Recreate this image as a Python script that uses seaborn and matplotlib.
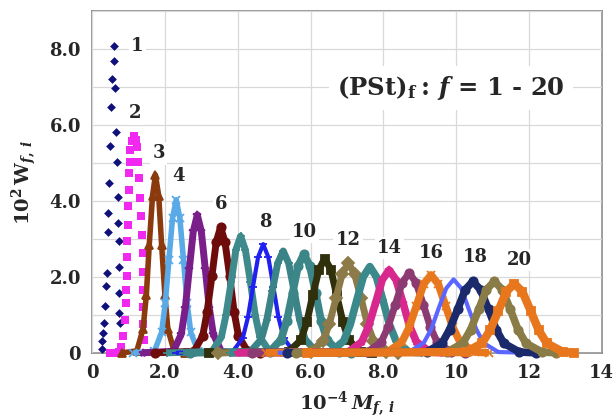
import numpy as np
import matplotlib
matplotlib.use("Agg")
import matplotlib.pyplot as plt
import seaborn as sns

# weight fraction curves 10^2 W_f,i vs 10^-4 M_f,i for f = 1..20
M_f1 = [0.27, 0.28, 0.31, 0.33, 0.36, 0.39, 0.40, 0.45, 0.45, 0.47, 0.50, 0.52, 0.54, 0.59, 0.61, 0.63, 0.66, 0.68, 0.70, 0.72, 0.73, 0.73, 0.74, 0.75, 0.78]
W_f1 = [0.10, 0.30, 0.52, 0.78, 1.22, 1.75, 2.10, 3.19, 3.68, 4.47, 5.45, 6.48, 7.22, 8.08, 7.69, 6.97, 5.80, 5.03, 4.11, 3.41, 2.93, 2.27, 1.57, 1.04, 0.78]

M_f2 = [0.50, 0.58, 0.66, 0.74, 0.80, 0.86, 0.91, 0.93, 0.94, 0.95, 0.95, 0.97, 0.98, 0.98, 1.00, 1.00, 1.03, 1.05, 1.10, 1.16, 1.21, 1.24, 1.26, 1.30, 1.32, 1.34, 1.37, 1.39, 1.40, 1.40, 1.41, 1.41, 1.43]
W_f2 = [0.00, 0.00, 0.00, 0.03, 0.15, 0.43, 0.87, 1.31, 1.66, 2.03, 2.53, 2.93, 3.37, 3.86, 4.29, 4.72, 5.03, 5.34, 5.57, 5.70, 5.60, 5.43, 5.03, 4.60, 4.07, 3.59, 3.11, 2.62, 2.14, 1.66, 1.20, 0.75, 0.35]

M_f3 = [0.83, 1.23, 1.40, 1.49, 1.57, 1.66, 1.74, 1.83, 1.91, 2.00, 2.08, 2.25, 2.55]
W_f3 = [0.00, 0.05, 0.63, 1.52, 2.84, 4.13, 4.68, 4.13, 2.84, 1.52, 0.63, 0.05, 0.00]
M_f4 = [1.13, 1.71, 1.91, 2.01, 2.11, 2.21, 2.31, 2.41, 2.51, 2.61, 2.71, 2.91, 3.20]
W_f4 = [0.00, 0.04, 0.54, 1.31, 2.45, 3.55, 4.03, 3.55, 2.45, 1.31, 0.54, 0.04, 0.00]
M_f5 = [1.40, 2.23, 2.45, 2.56, 2.67, 2.78, 2.89, 3.00, 3.11, 3.22, 3.33, 3.55, 3.85]
W_f5 = [0.00, 0.04, 0.49, 1.18, 2.20, 3.20, 3.63, 3.20, 2.20, 1.18, 0.49, 0.04, 0.00]
M_f6 = [1.74, 2.80, 3.04, 3.16, 3.29, 3.41, 3.53, 3.65, 3.78, 3.90, 4.02, 4.27, 4.60]
W_f6 = [0.00, 0.04, 0.45, 1.08, 2.01, 2.92, 3.31, 2.92, 2.01, 1.08, 0.45, 0.04, 0.00]
M_f7 = [2.07, 3.29, 3.55, 3.68, 3.82, 3.95, 4.08, 4.21, 4.35, 4.48, 4.61, 4.88, 5.20]
W_f7 = [0.00, 0.03, 0.41, 1.00, 1.86, 2.71, 3.07, 2.71, 1.86, 1.00, 0.41, 0.03, 0.00]
M_f8 = [2.30, 3.86, 4.14, 4.28, 4.42, 4.56, 4.70, 4.84, 4.98, 5.12, 5.26, 5.54, 5.85]
W_f8 = [0.00, 0.03, 0.39, 0.93, 1.74, 2.52, 2.86, 2.52, 1.74, 0.93, 0.39, 0.03, 0.00]
M_f9 = [2.50, 4.35, 4.65, 4.80, 4.95, 5.10, 5.25, 5.40, 5.55, 5.70, 5.85, 6.15, 6.50]
W_f9 = [0.00, 0.03, 0.36, 0.87, 1.63, 2.36, 2.68, 2.36, 1.63, 0.87, 0.36, 0.03, 0.00]
M_f10 = [2.70, 4.88, 5.19, 5.35, 5.51, 5.66, 5.82, 5.98, 6.14, 6.29, 6.45, 6.77, 7.10]
W_f10 = [0.00, 0.03, 0.35, 0.85, 1.58, 2.29, 2.60, 2.29, 1.58, 0.85, 0.35, 0.03, 0.00]
M_f11 = [3.20, 5.40, 5.73, 5.90, 6.06, 6.23, 6.39, 6.56, 6.72, 6.89, 7.05, 7.38, 7.70]
W_f11 = [0.00, 0.03, 0.33, 0.81, 1.51, 2.19, 2.48, 2.19, 1.51, 0.81, 0.33, 0.03, 0.00]
M_f12 = [3.47, 6.01, 6.35, 6.52, 6.70, 6.87, 7.04, 7.21, 7.39, 7.56, 7.73, 8.08, 8.40]
W_f12 = [0.00, 0.03, 0.32, 0.77, 1.43, 2.08, 2.36, 2.08, 1.43, 0.77, 0.32, 0.03, 0.00]
M_f13 = [3.80, 6.55, 6.91, 7.09, 7.27, 7.45, 7.63, 7.81, 7.99, 8.17, 8.35, 8.71, 9.05]
W_f13 = [0.00, 0.02, 0.31, 0.74, 1.38, 2.00, 2.27, 2.00, 1.38, 0.74, 0.31, 0.02, 0.00]
M_f14 = [4.00, 7.04, 7.41, 7.60, 7.79, 7.97, 8.16, 8.35, 8.54, 8.72, 8.91, 9.29, 9.65]
W_f14 = [0.00, 0.02, 0.29, 0.71, 1.32, 1.92, 2.18, 1.92, 1.32, 0.71, 0.29, 0.02, 0.00]
M_f15 = [4.40, 7.56, 7.94, 8.13, 8.33, 8.52, 8.71, 8.90, 9.10, 9.29, 9.48, 9.87, 10.25]
W_f15 = [0.00, 0.02, 0.28, 0.68, 1.27, 1.85, 2.10, 1.85, 1.27, 0.68, 0.28, 0.02, 0.00]
M_f16 = [4.77, 8.11, 8.51, 8.71, 8.91, 9.11, 9.31, 9.51, 9.71, 9.91, 10.11, 10.51, 10.90]
W_f16 = [0.00, 0.02, 0.28, 0.67, 1.24, 1.81, 2.05, 1.81, 1.24, 0.67, 0.28, 0.02, 0.00]
M_f17 = [5.10, 8.70, 9.11, 9.32, 9.52, 9.73, 9.93, 10.14, 10.34, 10.55, 10.75, 11.16, 12.00]
W_f17 = [0.00, 0.02, 0.26, 0.63, 1.17, 1.70, 1.93, 1.70, 1.17, 0.63, 0.26, 0.02, 0.00]
M_f18 = [5.35, 9.19, 9.61, 9.82, 10.04, 10.25, 10.46, 10.67, 10.89, 11.10, 11.31, 11.74, 12.20]
W_f18 = [0.00, 0.02, 0.25, 0.61, 1.14, 1.66, 1.88, 1.66, 1.14, 0.61, 0.25, 0.02, 0.00]
M_f19 = [5.60, 9.75, 10.18, 10.40, 10.62, 10.83, 11.05, 11.27, 11.49, 11.70, 11.92, 12.36, 12.75]
W_f19 = [0.00, 0.02, 0.25, 0.61, 1.14, 1.66, 1.88, 1.66, 1.14, 0.61, 0.25, 0.02, 0.00]
M_f20 = [5.90, 10.27, 10.71, 10.93, 11.16, 11.38, 11.60, 11.82, 12.05, 12.27, 12.49, 12.94, 13.25]
W_f20 = [0.00, 0.02, 0.25, 0.59, 1.10, 1.61, 1.82, 1.61, 1.10, 0.59, 0.25, 0.02, 0.00]

curve_labels = ["1", "2", "3", "4", "6", "8", "10", "12", "14", "16", "18", "20"]
x_ticks = [0, 2, 4, 6, 8, 10, 12, 14]
x_tick_labels = ["0", "2.0", "4.0", "6.0", "8.0", "10", "12", "14"]
y_ticks = [0, 2, 4, 6, 8]
y_tick_labels = ["0", "2.0", "4.0", "6.0", "8.0"]

curves_M = [M_f3, M_f4, M_f5, M_f6, M_f7, M_f8, M_f9, M_f10, M_f11, M_f12,
            M_f13, M_f14, M_f15, M_f16, M_f17, M_f18, M_f19, M_f20]
curves_W = [W_f3, W_f4, W_f5, W_f6, W_f7, W_f8, W_f9, W_f10, W_f11, W_f12,
            W_f13, W_f14, W_f15, W_f16, W_f17, W_f18, W_f19, W_f20]

# styles for f = 3..20
colors = ["#8b3a0e", "#5aaae8", "#7a1f8a", "#6e0c0c", "#3e8a8c", "#2020f0",
          "#3a8488", "#3c8688", "#30300c", "#8c7a48", "#3a8a8c", "#d8288e",
          "#8c3a72", "#e8781e", "#5a66ff", "#1a2a6a", "#8a7c46", "#e8761c"]
markers = ["^", "x", "*", "o", "+", "_", "_", "o", "s", "D",
           "+", "*", "o", "x", None, "o", "o", "s"]
widths = [4.0, 4.0, 5.0, 5.0, 5.0, 3.0, 5.0, 5.5, 5.0, 5.0,
          5.5, 5.5, 5.0, 5.5, 3.0, 5.5, 5.5, 6.0]

sns.set_theme(style="white")
plt.rcParams["font.family"] = ["DejaVu Serif"]
plt.rcParams["font.weight"] = "bold"
plt.rcParams["mathtext.fontset"] = "custom"
plt.rcParams["mathtext.rm"] = "DejaVu Serif:bold"
plt.rcParams["mathtext.it"] = "DejaVu Serif:italic:bold"
plt.rcParams["mathtext.bf"] = "DejaVu Serif:bold"

fig = plt.figure(figsize=(6.14, 4.19), dpi=100)
ax = fig.add_axes([0.150, 0.158, 0.830, 0.816])

sns.scatterplot(x=M_f1, y=W_f1, marker="D", color="#10107a", s=20,
                linewidth=0, ax=ax, clip_on=False, zorder=3)
sns.scatterplot(x=M_f2, y=W_f2, marker="s", color="#f028f0", s=28,
                linewidth=0, ax=ax, clip_on=False, zorder=3)

for i in range(len(curves_M)):
    c = colors[i]
    sns.lineplot(x=curves_M[i], y=curves_W[i], color=c, lw=widths[i],
                 marker=markers[i], markersize=6, mec=c, mfc=c, mew=1.3,
                 sort=False, estimator=None, ax=ax, clip_on=False,
                 solid_joinstyle="round", solid_capstyle="butt",
                 zorder=3 + i * 0.01)

ax.set_xlim(0, 14)
ax.set_ylim(0, 9)
ax.set_xticks(x_ticks)
ax.set_xticklabels(x_tick_labels)
ax.set_yticks(y_ticks)
ax.set_yticklabels(y_tick_labels)
ax.set_yticks([1, 3, 5, 7, 9], minor=True)
ax.tick_params(axis="both", which="both", length=0, labelsize=13, pad=8)
for lab in ax.get_xticklabels() + ax.get_yticklabels():
    lab.set_fontweight("bold")

ax.grid(True, axis="y", which="both", color="#d9d9d9", lw=0.9)
ax.grid(True, axis="x", which="major", color="#d9d9d9", lw=0.9)
ax.set_axisbelow(True)
for sp in ax.spines.values():
    sp.set_color("#8a8a8a")
    sp.set_linewidth(1.2)
    sp.set_zorder(0.5)

ax.set_ylabel(r"$\mathrm{10^{2}\,W}_{f,\,i}$", fontsize=14)
ax.set_xlabel(r"$\mathrm{10^{-4}}\,M_{f,\,i}$", fontsize=14)
ax.yaxis.set_label_coords(-0.105, 0.5)
ax.xaxis.set_label_coords(0.5, -0.108)

label_pos = [(1.24, 8.08), (1.18, 6.3), (1.83, 5.25), (2.37, 4.66), (3.55, 3.92),
             (4.75, 3.45), (5.83, 3.18), (7.03, 2.97), (8.17, 2.76), (9.33, 2.64),
             (10.52, 2.53), (11.74, 2.45)]
for txt, (lx, ly) in zip(curve_labels, label_pos):
    ax.text(lx, ly, txt, fontsize=13, fontweight="bold", ha="center", va="center",
            zorder=6, bbox=dict(facecolor="white", edgecolor="none", pad=1.5))

ax.text(9.86, 6.97, r"$\mathrm{(PSt)}_{\mathrm{f}}\mathrm{:}\,f$" + " = 1 - 20",
        fontsize=17.5, fontweight="bold", ha="center", va="center", zorder=6,
        bbox=dict(facecolor="white", edgecolor="none", pad=6))

fig.savefig("out.png", dpi=100)
